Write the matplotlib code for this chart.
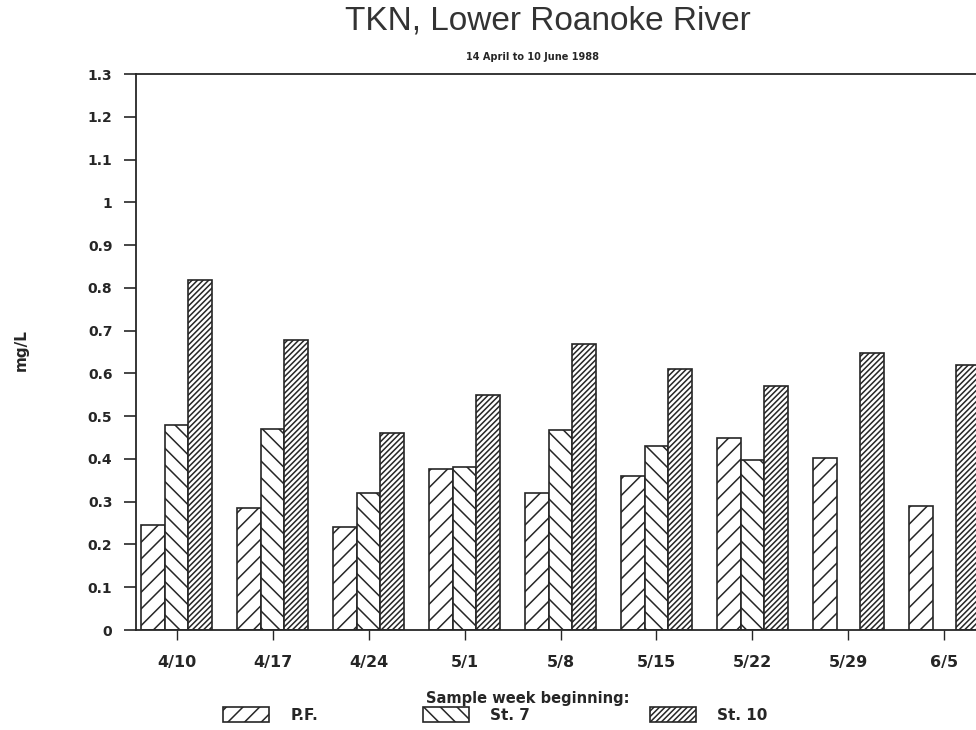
import numpy as np
import matplotlib
matplotlib.use("Agg")
import matplotlib.pyplot as plt
from matplotlib.patches import Patch

# TKN concentrations (mg/L) by sample week
weeks = ["4/10", "4/17", "4/24", "5/1", "5/8", "5/15", "5/22", "5/29", "6/5"]
pf = [0.245, 0.285, 0.241, 0.376, 0.321, 0.361, 0.449, 0.401, 0.289]
st7 = [0.48, 0.469, 0.321, 0.38, 0.468, 0.431, 0.397, np.nan, np.nan]
st10 = [0.818, 0.679, 0.46, 0.55, 0.669, 0.61, 0.57, 0.648, 0.62]
series = ["P.F.", "St. 7", "St. 10"]
hatches = ["//", "\\\\", "//////"]

ink = "#262626"
plt.rcParams["hatch.linewidth"] = 1.1
plt.rcParams["hatch.color"] = ink

fig = plt.figure(figsize=(9.76, 7.3), dpi=100)
ax = fig.add_axes([136 / 976, 1 - 630 / 730, 1 - 136 / 976, (630 - 74) / 730])

x = np.arange(len(weeks))
w = 0.245
for i, (vals, h) in enumerate(zip([pf, st7, st10], hatches)):
    ax.bar(x + (i - 1) * w, vals, w, facecolor="white", edgecolor=ink,
           hatch=h, linewidth=1.2)

ax.set_xlim(-0.424, 8.33)
ax.set_ylim(0, 1.3)
yt = np.round(np.arange(0, 1.31, 0.1), 1)
ax.set_yticks(yt)
ax.set_yticklabels([("%g" % v) for v in yt], fontsize=10, fontweight="bold", color=ink)
ax.set_xticks(x)
ax.set_xticklabels(weeks, fontsize=11.5, fontweight="bold", color=ink)
ax.tick_params(axis="y", length=9, width=1.2, color=ink, pad=8)
ax.tick_params(axis="x", length=7, width=1.0, color=ink, pad=11)
ax.spines["right"].set_visible(False)
for s in ["left", "top", "bottom"]:
    ax.spines[s].set_color(ink)
    ax.spines[s].set_linewidth(1.3)

fig.text(548 / 976, 1 - 21 / 730, "TKN, Lower Roanoke River", ha="center", va="center",
         fontsize=24, family="Liberation Sans", color="#333333")
fig.text(533 / 976, 1 - 57 / 730, "14 April to 10 June 1988", ha="center", va="center",
         fontsize=7, fontweight="bold", color=ink)
fig.text(21 / 976, 1 - 350 / 730, "mg/L", rotation=90, ha="center", va="center",
         fontsize=11, fontweight="bold", color=ink)
fig.text(528 / 976, 1 - 699 / 730, "Sample week beginning:", ha="center", va="center",
         fontsize=10.5, fontweight="bold", color=ink)

# legend entries placed one by one along the bottom row
for name, h, left in zip(series, hatches, [223, 423, 650]):
    fig.legend(handles=[Patch(facecolor="white", edgecolor=ink, hatch=h, linewidth=1.2)],
               labels=[name], loc="center left", bbox_to_anchor=(left / 976, 1 - 715 / 730),
               frameon=False, handlelength=3.0, handleheight=1.1, handletextpad=1.4,
               borderpad=0, borderaxespad=0, prop={"size": 11, "weight": "bold"},
               labelcolor=ink)

fig.savefig("out.png", dpi=100, facecolor="white")
